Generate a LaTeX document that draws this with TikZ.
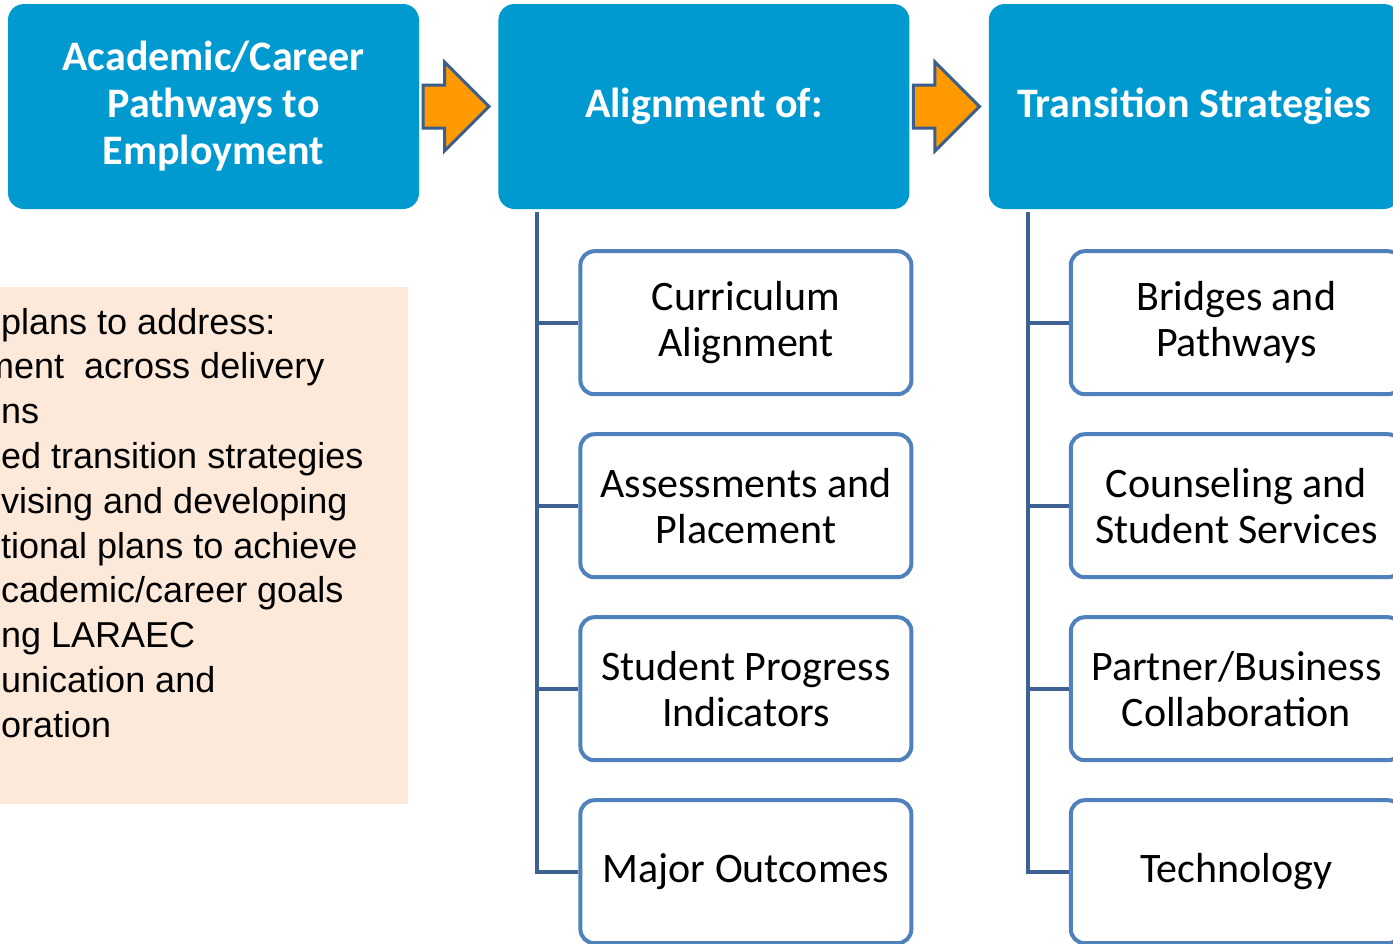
\documentclass[tikz,border=0pt]{standalone}
\usepackage{fontspec}
\setmainfont{Carlito}
\newfontfamily\notefont{Liberation Sans}
\usetikzlibrary{positioning,calc,shapes.arrows}
\definecolor{headblue}{RGB}{0,153,208}
\definecolor{itemblue}{RGB}{79,129,189}
\definecolor{trunkblue}{RGB}{61,97,146}
\definecolor{arroworange}{RGB}{255,153,0}
\definecolor{arrowedge}{RGB}{59,94,140}
\definecolor{notepeach}{RGB}{253,233,217}

\begin{document}
\begin{tikzpicture}[x=1pt,y=-1pt,
    headbox/.style={rectangle,rounded corners=16pt,fill=headblue,text=white,
      minimum width=411pt,minimum height=205pt,inner sep=0pt,align=center,
      font=\fontsize{42}{47}\selectfont\bfseries},
    itembox/.style={rectangle,rounded corners=14pt,draw=itemblue,line width=4pt,fill=white,
      minimum width=331pt,minimum height=143pt,inner sep=0pt,align=center,
      font=\fontsize{42}{46}\selectfont},
    flowarrow/.style={single arrow,draw=arrowedge,fill=arroworange,line width=3pt,anchor=tip,
      minimum height=66pt,inner xsep=0pt,inner ysep=20pt,single arrow head extend=23pt},
    trunk/.style={draw=trunkblue,line width=4pt},
    notetext/.style={anchor=base west,inner sep=0pt,font=\notefont\fontsize{36}{44.8}\selectfont}]
  \clip (0,0) rectangle (1393,943);

  % note on the left, cut by the frame
  \node[fill=notepeach,minimum width=468pt,minimum height=517pt,anchor=north east,inner sep=0pt] (notebg) at (408,287) {};
  \foreach \t [count=\i] in {{plans to address:},{\hspace*{-17pt}ment\ \ across delivery},{ns},
      {ed transition strategies},{vising and developing},{tional plans to achieve},
      {cademic/career goals},{ng LARAEC},{unication and},{oration}}
    \node[notetext] (note\i) at (1,{334+44.8*(\i-1)}) {\t};

  % top row
  \node[headbox] (pathways) at (213.5,106.5) {Academic/Career\\Pathways to\\Employment};
  \node[headbox] (alignof) [right=79pt of pathways] {Alignment of:};
  \node[headbox] (strategies) [right=79pt of alignof] {Transition Strategies};

  \node[flowarrow] (arrowA) at ([xshift=-7pt]alignof.west) {};
  \node[flowarrow] (arrowB) at ([xshift=-7pt]strategies.west) {};

  % alignment items
  \coordinate (trunkA) at ([xshift=39pt,yshift=-3pt]alignof.south west);
  \coordinate (trunkB) at ([xshift=39pt,yshift=-3pt]strategies.south west);

  \node[itembox] (curriculum) [below=40pt of alignof.south,xshift=42pt] {Curriculum\\Alignment};
  \node[itembox] (assessments) [below=36pt of curriculum] {Assessments and\\Placement};
  \node[itembox] (progress) [below=36pt of assessments] {Student Progress\\Indicators};
  \node[itembox] (outcomes) [below=36pt of progress] {Major Outcomes};

  % transition items
  \node[itembox] (bridges) [below=40pt of strategies.south,xshift=42pt] {Bridges and\\Pathways};
  \node[itembox] (counseling) [below=36pt of bridges] {Counseling and\\Student Services};
  \node[itembox] (partners) [below=36pt of counseling] {Partner/Business\\Collaboration};
  \node[itembox] (technology) [below=36pt of partners] {Technology};

  \draw[trunk] (trunkA) |- (outcomes.west);
  \foreach \n in {curriculum,assessments,progress}
    \draw[trunk] (trunkA |- \n.west) -- (\n.west);
  \draw[trunk] (trunkB) |- (technology.west);
  \foreach \n in {bridges,counseling,partners}
    \draw[trunk] (trunkB |- \n.west) -- (\n.west);
\end{tikzpicture}
\end{document}
